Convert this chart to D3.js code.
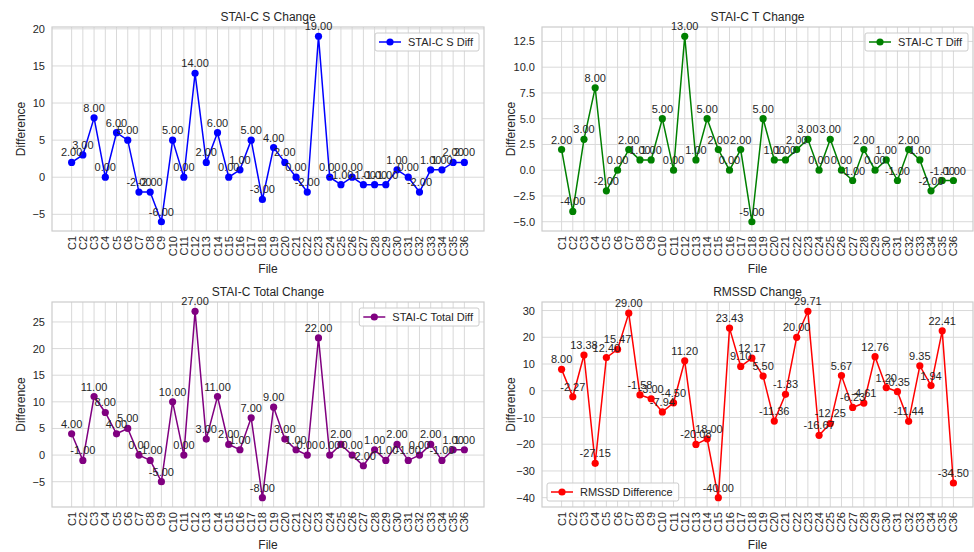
<!DOCTYPE html>
<html>
<head>
<meta charset="utf-8">
<script src="https://cdn.jsdelivr.net/npm/d3@7"></script>
<style>
  body { margin: 0; background: #fff; }
  svg text { font-family: Arial, "Liberation Sans", sans-serif; fill: #262626; }
</style>
</head>
<body>
<div id="chart"></div>
<script>
// data
var files = d3.range(1, 37).map(function (i) { return "C" + i; });

var staiS = [2, 3, 8, 0, 6, 5, -2, -2, -6, 5, 0, 14, 2, 6, 0, 1, 5, -3, 4, 2, 0, -2, 19, 0,
    -1, 0, -1, -1, -1, 1, 0, -2, 1, 1, 2, 2];
var staiT = [2, -4, 3, 8, -2, 0, 2, 1, 1, 5, 0, 13, 1, 5, 2, 0, 2, -5, 5, 1, 1, 2, 3, 0,
    3, 0, -1, 2, 0, 1, -1, 2, 1, -2, -1, -1];
var staiTotal = [4, -1, 11, 8, 4, 5, 0, -1, -5, 10, 0, 27, 3, 11, 2, 1, 7, -8, 9, 3, 1, 0, 22, 0,
    2, 0, -2, 1, -1, 2, -1, 0, 2, -1, 1, 1];
var rmssd = [8.00, -2.27, 13.38, -27.15, 12.40, 15.47, 29.00, -1.58, -3.00, -7.94, -4.50, 11.20,
    -20.08, -18.00, -40.00, 23.43, 9.10, 12.17, 5.50, -11.36, -1.33, 20.00, 29.71, -16.67,
    -12.25, 5.67, -6.23, -4.61, 12.76, 1.20, -0.35, -11.44, 9.35, 1.94, 22.41, -34.50];

var panels = [
    { title: "STAI-C S Change", label: "STAI-C S Diff", values: staiS, color: "blue",
      ticks: [-5, 0, 5, 10, 15, 20], fmt: "d", legend: "right",
      box: { x: 52, y: 27, w: 432, h: 204 } },
    { title: "STAI-C T Change", label: "STAI-C T Diff", values: staiT, color: "green",
      ticks: [-5, -2.5, 0, 2.5, 5, 7.5, 10, 12.5], fmt: ".1f", legend: "right",
      box: { x: 542, y: 27, w: 431, h: 204 } },
    { title: "STAI-C Total Change", label: "STAI-C Total Diff", values: staiTotal, color: "purple",
      ticks: [-5, 0, 5, 10, 15, 20, 25], fmt: "d", legend: "right",
      box: { x: 52, y: 302, w: 432, h: 205 } },
    { title: "RMSSD Change", label: "RMSSD Difference", values: rmssd, color: "red",
      ticks: [-40, -30, -20, -10, 0, 10, 20, 30], fmt: "d", legend: "left",
      box: { x: 542, y: 302, w: 431, h: 205 } }
];

var svg = d3.select("#chart").append("svg")
    .attr("width", 974)
    .attr("height", 552);

panels.forEach(drawPanel);

function drawPanel(p) {
    var b = p.box;
    var g = svg.append("g").attr("transform", "translate(" + b.x + "," + b.y + ")");

    // matplotlib style 5% margins
    var n = files.length;
    var x = d3.scaleLinear().domain([-0.05 * (n - 1), (n - 1) * 1.05]).range([0, b.w]);
    var ext = d3.extent(p.values);
    var pad = (ext[1] - ext[0]) * 0.05;
    var y = d3.scaleLinear().domain([ext[0] - pad, ext[1] + pad]).range([b.h, 0]);

    // grid
    g.append("g").selectAll("line").data(files).enter().append("line")
        .attr("x1", function (d, i) { return x(i); })
        .attr("x2", function (d, i) { return x(i); })
        .attr("y1", 0).attr("y2", b.h)
        .attr("stroke", "#d9d9d9").attr("stroke-width", 1);
    g.append("g").selectAll("line").data(p.ticks).enter().append("line")
        .attr("x1", 0).attr("x2", b.w)
        .attr("y1", function (d) { return y(d); })
        .attr("y2", function (d) { return y(d); })
        .attr("stroke", "#d9d9d9").attr("stroke-width", 1);

    g.append("rect")
        .attr("width", b.w).attr("height", b.h)
        .attr("fill", "none").attr("stroke", "#cccccc").attr("stroke-width", 1.2);

    // y axis
    var yAxis = d3.axisLeft(y).tickValues(p.ticks).tickSize(0).tickPadding(7)
        .tickFormat(function (d) { return d < 0 ? "\u2212" + d3.format(p.fmt)(-d) : d3.format(p.fmt)(d); });
    var ya = g.append("g").call(yAxis);
    ya.select(".domain").remove();
    ya.selectAll("text").style("font-size", "11px").attr("fill", "#262626");

    // x axis
    var xa = g.append("g").attr("transform", "translate(0," + b.h + ")");
    xa.selectAll("text").data(files).enter().append("text")
        .attr("transform", function (d, i) { return "translate(" + (x(i) + 4) + ",5) rotate(-90)"; })
        .attr("text-anchor", "end")
        .style("font-size", "11px")
        .text(function (d) { return d; });

    // titles
    g.append("text").attr("x", b.w / 2).attr("y", -6)
        .attr("text-anchor", "middle").style("font-size", "12px").text(p.title);
    g.append("text").attr("x", b.w / 2).attr("y", b.h + 42)
        .attr("text-anchor", "middle").style("font-size", "12px").text("File");
    g.append("text")
        .attr("transform", "translate(-27," + (b.h / 2) + ") rotate(-90)")
        .attr("text-anchor", "middle").style("font-size", "12px").text("Difference");

    // line + markers
    var line = d3.line()
        .x(function (d, i) { return x(i); })
        .y(function (d) { return y(d); });
    g.append("path").datum(p.values)
        .attr("d", line).attr("fill", "none")
        .attr("stroke", p.color).attr("stroke-width", 1.5);
    g.append("g").selectAll("circle").data(p.values).enter().append("circle")
        .attr("cx", function (d, i) { return x(i); })
        .attr("cy", function (d) { return y(d); })
        .attr("r", 3.6).attr("fill", p.color);

    // value annotations (plain hyphen, like the reference)
    g.append("g").selectAll("text").data(p.values).enter().append("text")
        .attr("x", function (d, i) { return x(i); })
        .attr("y", function (d) { return y(d) - 6; })
        .attr("text-anchor", "middle")
        .style("font-size", "11px")
        .text(function (d) { return d.toFixed(2); });

    // legend, sized to its text
    var lh = 18;
    var lg = g.append("g");
    var rect = lg.append("rect").attr("height", lh).attr("rx", 2)
        .attr("fill", "#fff").attr("fill-opacity", 0.85)
        .attr("stroke", "#cccccc").attr("stroke-width", 1);
    lg.append("line").attr("x1", 4).attr("x2", 26).attr("y1", lh / 2).attr("y2", lh / 2)
        .attr("stroke", p.color).attr("stroke-width", 1.5);
    lg.append("circle").attr("cx", 15).attr("cy", lh / 2).attr("r", 3.6).attr("fill", p.color);
    var lt = lg.append("text").attr("x", 33).attr("y", lh / 2 + 4)
        .style("font-size", "11px").text(p.label);
    var lw = lt.node().getComputedTextLength() + 39;
    rect.attr("width", lw);
    var lx = p.legend === "right" ? b.w - lw - 5 : 5;
    var ly = p.legend === "right" ? 6 : b.h - lh - 6;
    lg.attr("transform", "translate(" + lx + "," + ly + ")");
}
</script>
</body>
</html>
